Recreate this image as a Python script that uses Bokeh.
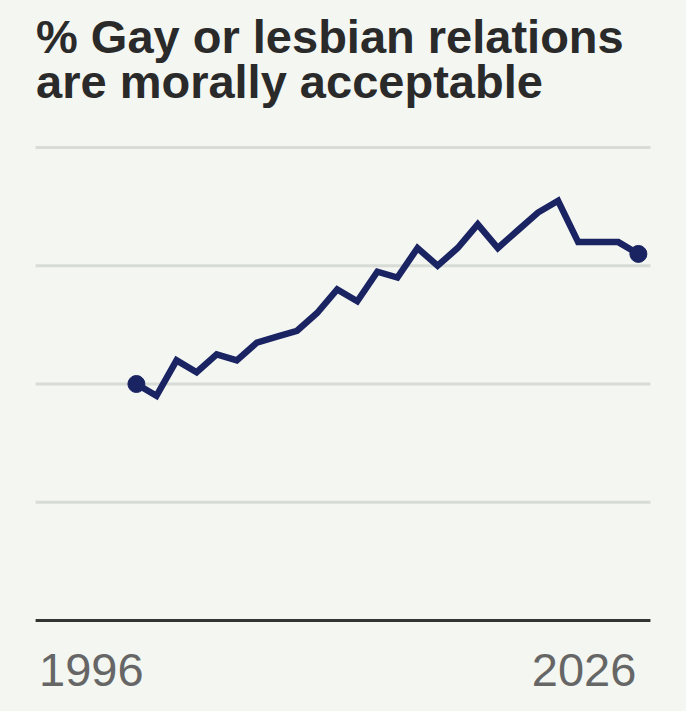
from bokeh.plotting import figure
from bokeh.models import Label, Range1d
from bokeh.embed import file_html
from bokeh.resources import INLINE

# Data (Gallup: % saying gay or lesbian relations are morally acceptable)
years = [2001, 2002, 2003, 2004, 2005, 2006, 2007, 2008, 2009, 2010,
         2011, 2012, 2013, 2014, 2015, 2016, 2017, 2018, 2019, 2020,
         2021, 2022, 2023, 2024, 2025, 2026]
pct = [40, 38, 44, 42, 45, 44, 47, 48, 49, 52,
       56, 54, 59, 58, 63, 60, 63, 67, 63, 66,
       69, 71, 64, 64, 64, 62]
grid_ticks = [20, 40, 60, 80]
x_tick_values = [1996, 2026]
x_tick_labels = ["1996", "2026"]
title_lines = ["% Gay or lesbian relations", "are morally acceptable"]

BG = "#f3f6f1"
NAVY = "#1b2462"

# axis extent (years) of the plotting area
x_lo, x_hi = 1995.98, 2026.6

p = figure(width=686, height=711, output_backend="svg", toolbar_location=None,
           x_range=Range1d(1994.232, 2028.396), y_range=Range1d(-15.391, 104.863),
           min_border=0)
p.background_fill_color = BG
p.border_fill_color = BG
p.outline_line_color = None
p.xaxis.visible = False
p.yaxis.visible = False
p.grid.visible = False

# horizontal gridlines
p.segment(x0=[x_lo] * len(grid_ticks), x1=[x_hi] * len(grid_ticks),
          y0=grid_ticks, y1=grid_ticks, line_color="#d8dcd7", line_width=3)
# baseline axis
p.segment(x0=[x_lo], x1=[x_hi], y0=[0], y1=[0], line_color="#333333", line_width=3)

p.line(years, pct, line_color=NAVY, line_width=6.5, line_join="miter")
p.scatter([years[0], years[-1]], [pct[0], pct[-1]], size=17, fill_color=NAVY,
          line_color=NAVY)

# x-axis end labels
for xv, lab, al, dx in zip(x_tick_values, x_tick_labels, ["left", "right"], [0.15, -0.1]):
    p.add_layout(Label(x=xv + dx, y=-8.3, text=lab, text_align=al,
                       text_baseline="alphabetic", text_font="Liberation Sans",
                       text_font_size="47px", text_color="#666666"))

# title
for txt, yy in zip(title_lines, [98.7, 91.1]):
    p.add_layout(Label(x=1996, y=yy, text=txt, text_align="left",
                       text_baseline="alphabetic", text_font="Liberation Sans",
                       text_font_style="bold", text_font_size="47px",
                       text_color="#2a2a2a"))

html = file_html(p, INLINE)
html = html.replace("<head>",
                    "<head><style>html,body{background:%s;margin:0;padding:0;overflow:hidden;}</style>" % BG, 1)
open("out.html", "w").write(html)
